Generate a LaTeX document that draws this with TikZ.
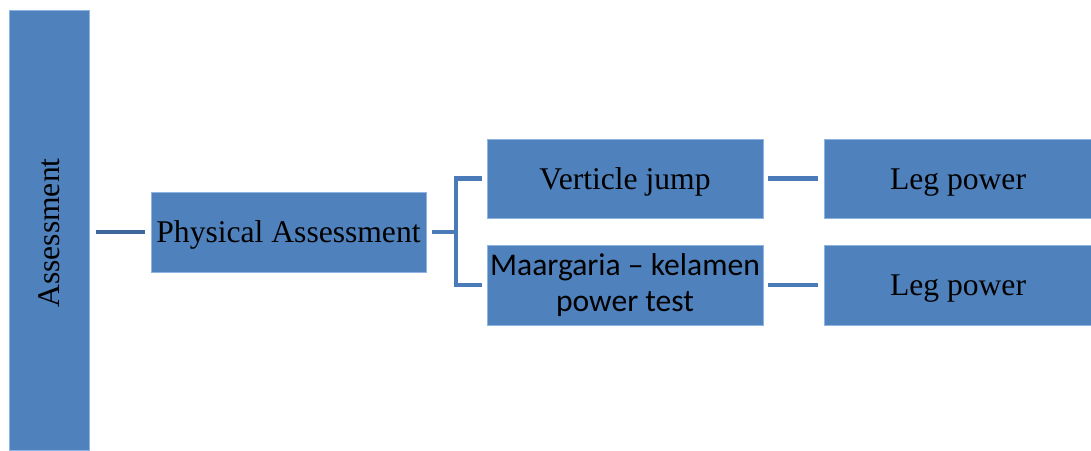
\documentclass[tikz,border=0pt]{standalone}
\usepackage{fontspec}
\setmainfont{Liberation Serif}
\newfontfamily\calibri{Carlito}
\usepackage{tikz}
\usetikzlibrary{calc}

\definecolor{boxblue}{HTML}{4F81BD}
\definecolor{rimblue}{HTML}{8EB4E3}
\definecolor{linkblue}{HTML}{4A7AB7}
\definecolor{darklink}{HTML}{3D6899}

\tikzset{
  box/.style={draw=rimblue, line width=0.8pt, fill=boxblue, inner sep=0pt,
    font=\fontsize{31.6}{36}\selectfont, align=center},
  oneline/.style={text height=21.6pt, text depth=0pt},
  link/.style={draw=linkblue, line width=4.5pt}
}

\begin{document}
\begin{tikzpicture}[x=1pt, y=-1pt]
\useasboundingbox (0,0) rectangle (1091,450);
\node[box, rotate=90, minimum width=440pt, minimum height=80pt] (assess) at (49,230) {Assessment\hspace*{6pt}};
\node[box, oneline, minimum width=275pt, minimum height=80pt] (phys) at (288.5,232) {Physical Assessment};
\node[box, oneline, minimum width=276pt, minimum height=79pt] (jump) at (625,178.5) {Verticle jump};
\node[box, minimum width=276pt, minimum height=80pt] (test) at (625,285) {\calibri Maargaria – kelamen\\\calibri power test};
\node[box, oneline, minimum width=268pt, minimum height=79pt] (leg1) at (958,178.5) {Leg power};
\node[box, oneline, minimum width=268pt, minimum height=80pt] (leg2) at (958,285) {Leg power};
\coordinate (fork) at (456,232);
\draw[link, draw=darklink, shorten <=7pt, shorten >=6pt] (assess.south |- phys.west) -- (phys.west);
\draw[link, shorten <=6pt] (phys.east) -- (fork);
\draw[link, shorten >=5pt] (fork) |- (jump.west);
\draw[link, shorten >=5pt] (fork) |- (test.west);
\draw[link, shorten <=5pt, shorten >=6pt] (jump.east) -- (leg1.west);
\draw[link, shorten <=5pt, shorten >=6pt] (test.east) -- (leg2.west);
\end{tikzpicture}
\end{document}
